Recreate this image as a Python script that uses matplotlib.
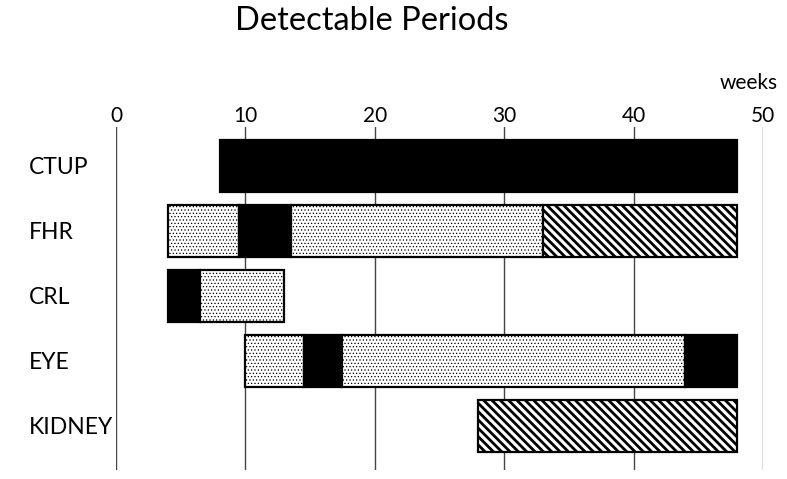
import matplotlib
matplotlib.use("Agg")
import matplotlib.pyplot as plt

# Data: each row is split into segments at the given week boundaries
rows = ["CTUP", "FHR", "CRL", "EYE", "KIDNEY"]
ctup_bounds = [8, 48]
ctup_styles = ["solid"]
fhr_bounds = [4, 9.5, 13.5, 33, 48]
fhr_styles = ["dots", "solid", "dots", "stripes"]
crl_bounds = [4, 6.5, 13]
crl_styles = ["solid", "dots"]
eye_bounds = [10, 14.5, 17.5, 44, 48]
eye_styles = ["dots", "solid", "dots", "solid"]
kidney_bounds = [28, 48]
kidney_styles = ["stripes"]
week_ticks = [0, 10, 20, 30, 40, 50]

segments = [
    (ctup_bounds, ctup_styles),
    (fhr_bounds, fhr_styles),
    (crl_bounds, crl_styles),
    (eye_bounds, eye_styles),
    (kidney_bounds, kidney_styles),
]

STYLES = {
    "solid": dict(facecolor="black", hatch=None, hlw=1.0),
    "dots": dict(facecolor="white", hatch=".....", hlw=0.5),
    "stripes": dict(facecolor="white", hatch="\\\\\\\\", hlw=2.0),
}

plt.rcParams["font.family"] = ["Lato", "DejaVu Sans"]

fig = plt.figure(figsize=(7.87, 4.79), dpi=100)
ax = fig.add_axes([116 / 787, 1 - 470 / 479, 647 / 787, (470 - 127) / 479])

for i, (bounds, styles) in enumerate(segments):
    for left, right, style in zip(bounds[:-1], bounds[1:], styles):
        st = STYLES[style]
        plt.rcParams["hatch.linewidth"] = st["hlw"]
        bars = ax.barh(i, right - left, left=left, height=0.8,
                       color=st["facecolor"], edgecolor="black",
                       linewidth=1.6, hatch=st["hatch"], zorder=3)
        for p in bars:
            if hasattr(p, "set_hatch_linewidth"):
                p.set_hatch_linewidth(st["hlw"])

ax.set_xlim(0, 50)
ax.set_ylim(len(rows) - 1 + 0.68, -0.6)
ax.set_xticks(week_ticks)
ax.xaxis.tick_top()
ax.tick_params(axis="x", length=0, pad=1, labelsize=15)
ax.set_yticks(range(len(rows)))
ax.set_yticklabels(rows, fontsize=16.5, ha="left")
ax.tick_params(axis="y", length=0, pad=63)
ax.grid(axis="x", color="#444444", linewidth=1.0, zorder=0)
for spine in ax.spines.values():
    spine.set_visible(False)

fig.text(372 / 787, 1 - 21 / 479, "Detectable Periods", fontsize=23.5,
         ha="center", va="center")
fig.text(749 / 787, 1 - 83 / 479, "weeks", fontsize=15,
         ha="center", va="center")

fig.savefig("out.png", dpi=100, facecolor="white")
